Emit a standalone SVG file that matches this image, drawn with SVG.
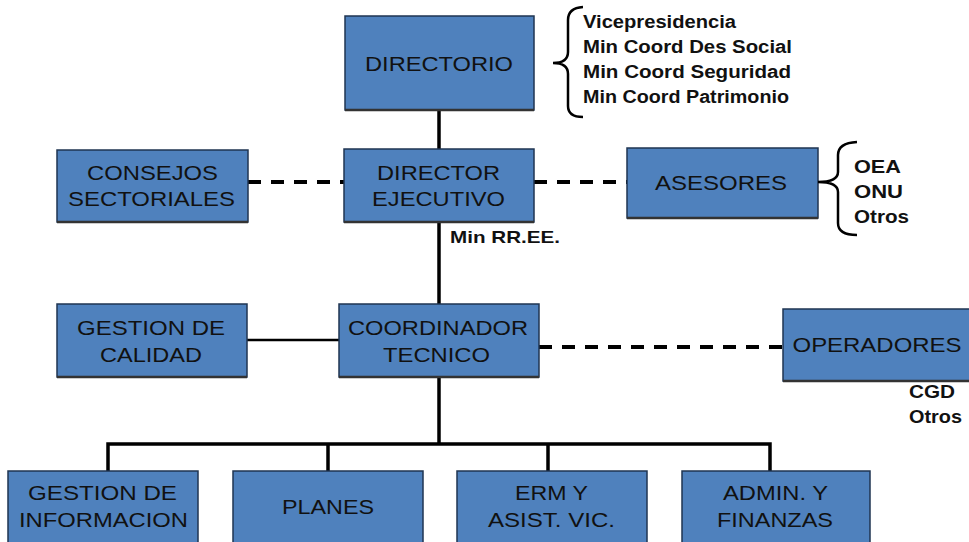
<svg xmlns="http://www.w3.org/2000/svg" width="969" height="542" viewBox="0 0 969 542">
<style>
.box{fill:#4f81bd;stroke:#1f3552;stroke-width:1.5}
.sh{stroke:#333;stroke-width:2.5}
.t{font-family:"Liberation Sans",Arial,sans-serif;font-size:21px;fill:#111;text-anchor:middle}
.s{font-family:"Liberation Sans",Arial,sans-serif;font-size:18px;font-weight:bold;fill:#111}
.solid{stroke:#000;stroke-width:3.5;fill:none}
.thin{stroke:#000;stroke-width:2.5;fill:none}
.dash{stroke:#000;stroke-width:4;stroke-dasharray:13 10;fill:none}
.brace{stroke:#000;stroke-width:2.5;fill:none}
</style>
<rect width="969" height="542" fill="#fff"/>
<g id="connectors">
<line class="solid" x1="439" y1="110" x2="439" y2="444"/>
<polyline class="solid" points="108,471 108,444 770,444 770,471"/>
<line class="solid" x1="328" y1="444" x2="328" y2="471"/>
<line class="solid" x1="548" y1="444" x2="548" y2="471"/>
<line class="dash" x1="248" y1="182" x2="344" y2="182"/>
<line class="dash" x1="534" y1="182" x2="627" y2="182"/>
<line class="thin" x1="247" y1="340" x2="339" y2="340"/>
<line class="dash" x1="539" y1="347" x2="783" y2="347"/>
</g>
<g id="directorio">
<rect class="box" x="345" y="16" width="189" height="94"/>
<line class="sh" x1="345" y1="110" x2="534" y2="110"/>
<text class="t" x="439" y="71" textLength="148" lengthAdjust="spacingAndGlyphs">DIRECTORIO</text>
</g>
<g id="directorio-note">
<path class="brace" d="M583,7 Q568,8 568,20 L568,52 Q568,63 553,63 Q568,63 568,74 L568,106 Q568,117 583,117"/>
<text class="s" x="583" y="28" textLength="153" lengthAdjust="spacingAndGlyphs">Vicepresidencia</text>
<text class="s" x="583" y="53" textLength="209" lengthAdjust="spacingAndGlyphs">Min Coord Des Social</text>
<text class="s" x="583" y="78" textLength="208" lengthAdjust="spacingAndGlyphs">Min Coord Seguridad</text>
<text class="s" x="583" y="103" textLength="206" lengthAdjust="spacingAndGlyphs">Min Coord Patrimonio</text>
</g>
<g id="consejos">
<rect class="box" x="57" y="150" width="191" height="72"/>
<line class="sh" x1="57" y1="222" x2="248" y2="222"/>
<text class="t" x="152.5" y="180" textLength="131" lengthAdjust="spacingAndGlyphs">CONSEJOS</text>
<text class="t" x="151.5" y="206" textLength="167" lengthAdjust="spacingAndGlyphs">SECTORIALES</text>
</g>
<g id="director-ejecutivo">
<rect class="box" x="344" y="149" width="190" height="73"/>
<line class="sh" x1="344" y1="222" x2="534" y2="222"/>
<text class="t" x="438.5" y="180" textLength="123" lengthAdjust="spacingAndGlyphs">DIRECTOR</text>
<text class="t" x="438.5" y="206" textLength="133" lengthAdjust="spacingAndGlyphs">EJECUTIVO</text>
<text class="s" x="450" y="243" textLength="110" lengthAdjust="spacingAndGlyphs" style="font-size:17px">Min RR.EE.</text>
</g>
<g id="asesores">
<rect class="box" x="627" y="148" width="191" height="70"/>
<line class="sh" x1="627" y1="218" x2="818" y2="218"/>
<text class="t" x="721" y="190" textLength="132" lengthAdjust="spacingAndGlyphs">ASESORES</text>
<path class="brace" d="M857,142 Q838,143 838,155 L838,172 Q838,182 818,182 Q838,182 838,192 L838,223 Q838,235 857,235"/>
<text class="s" x="854" y="173" textLength="47" lengthAdjust="spacingAndGlyphs">OEA</text>
<text class="s" x="854" y="198" textLength="49" lengthAdjust="spacingAndGlyphs">ONU</text>
<text class="s" x="854" y="223" textLength="55" lengthAdjust="spacingAndGlyphs">Otros</text>
</g>
<g id="gestion-calidad">
<rect class="box" x="57" y="304" width="190" height="73"/>
<line class="sh" x1="57" y1="377" x2="247" y2="377"/>
<text class="t" x="151" y="335" textLength="148" lengthAdjust="spacingAndGlyphs">GESTION DE</text>
<text class="t" x="151" y="362" textLength="102" lengthAdjust="spacingAndGlyphs">CALIDAD</text>
</g>
<g id="coordinador">
<rect class="box" x="339" y="304" width="200" height="73"/>
<line class="sh" x1="339" y1="377" x2="539" y2="377"/>
<text class="t" x="438" y="335" textLength="180" lengthAdjust="spacingAndGlyphs">COORDINADOR</text>
<text class="t" x="436.5" y="362" textLength="107" lengthAdjust="spacingAndGlyphs">TECNICO</text>
</g>
<g id="operadores">
<rect class="box" x="783" y="309" width="190" height="72"/>
<line class="sh" x1="783" y1="381" x2="969" y2="381"/>
<text class="t" x="877" y="352" textLength="169" lengthAdjust="spacingAndGlyphs">OPERADORES</text>
<text class="s" x="909" y="398" textLength="46" lengthAdjust="spacingAndGlyphs">CGD</text>
<text class="s" x="909" y="423" textLength="53" lengthAdjust="spacingAndGlyphs">Otros</text>
</g>
<g id="gestion-informacion">
<rect class="box" x="8" y="471" width="190" height="80"/>
<text class="t" x="102.5" y="500" textLength="149" lengthAdjust="spacingAndGlyphs">GESTION DE</text>
<text class="t" x="103.5" y="527" textLength="169" lengthAdjust="spacingAndGlyphs">INFORMACION</text>
</g>
<g id="planes">
<rect class="box" x="233" y="471" width="190" height="80"/>
<text class="t" x="328" y="514" textLength="92" lengthAdjust="spacingAndGlyphs">PLANES</text>
</g>
<g id="erm">
<rect class="box" x="457" y="471" width="190" height="80"/>
<text class="t" x="551.5" y="500" textLength="73" lengthAdjust="spacingAndGlyphs">ERM Y</text>
<text class="t" x="551.5" y="527" textLength="127" lengthAdjust="spacingAndGlyphs">ASIST. VIC.</text>
</g>
<g id="admin">
<rect class="box" x="682" y="471" width="188" height="80"/>
<text class="t" x="775.5" y="500" textLength="105" lengthAdjust="spacingAndGlyphs">ADMIN. Y</text>
<text class="t" x="775" y="527" textLength="116" lengthAdjust="spacingAndGlyphs">FINANZAS</text>
</g>
</svg>
